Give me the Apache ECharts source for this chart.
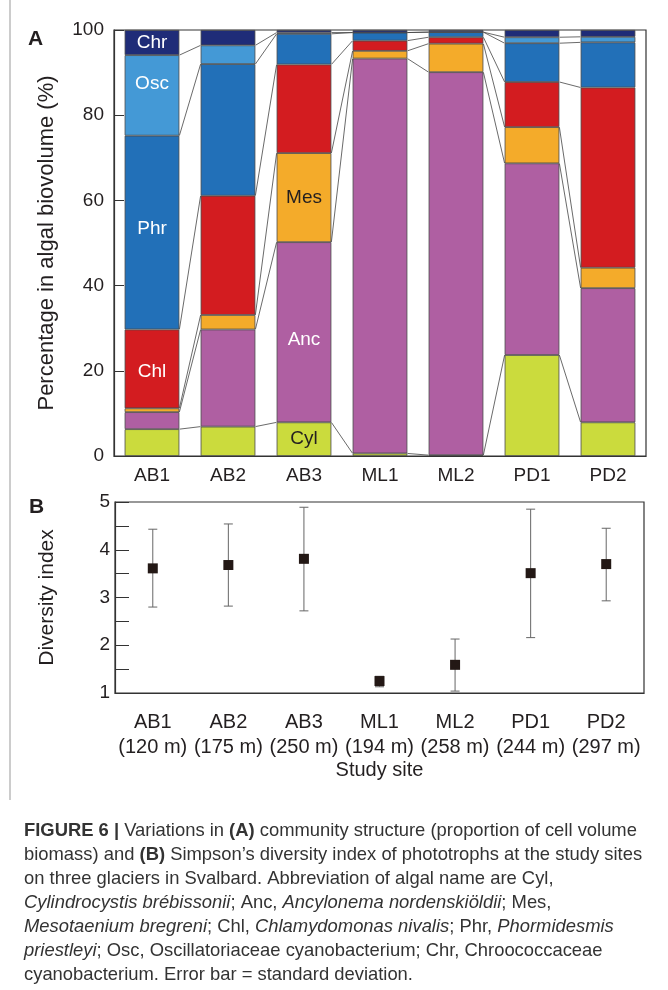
<!DOCTYPE html>
<html>
<head>
<meta charset="utf-8">
<script src="https://cdn.jsdelivr.net/npm/echarts@6/dist/echarts.min.js"></script>
<style>
  body { margin: 0; background: #fff; }
  #chart { width: 668px; height: 990px; }
</style>
</head>
<body>
<div id="chart"></div>
<script>
// sites and altitudes
const categories = ['AB1', 'AB2', 'AB3', 'ML1', 'ML2', 'PD1', 'PD2'];
const altitudes = ['120 m', '175 m', '250 m', '194 m', '258 m', '244 m', '297 m'];

// percentage of algal biovolume, bottom to top of the stack
const taxa = ['Cyl', 'Anc', 'Mes', 'Chl', 'Phr', 'Osc', 'Chr'];
const cyl = [6.3, 6.9, 7.9, 0.6, 0.2, 23.7, 7.9];
const anc = [4.0, 22.8, 42.3, 92.7, 89.9, 45.0, 31.5];
const mes = [0.9, 3.4, 20.9, 1.8, 6.7, 8.5, 4.8];
const chl = [18.5, 28.0, 20.8, 2.4, 1.5, 10.6, 42.3];
const phr = [45.5, 30.9, 7.2, 1.9, 1.2, 9.1, 10.6];
const osc = [18.9, 4.4, 0.3, 0.0, 0.0, 1.4, 1.3];
const chr = [5.9, 3.6, 0.6, 0.6, 0.5, 1.7, 1.6];

// Simpson's diversity index, mean and +/- SD ends
const diversity = [3.61, 3.68, 3.81, 1.25, 1.59, 3.51, 3.70];
const divLow = [2.80, 2.82, 2.72, 1.13, 1.04, 2.16, 2.93];
const divHigh = [4.43, 4.54, 4.89, 1.35, 2.13, 4.85, 4.45];

const pctTicks = [0, 20, 40, 60, 80, 100];
const divTicks = [1, 2, 3, 4, 5];

const values = [cyl, anc, mes, chl, phr, osc, chr];
const colors = ['#cbdb3d', '#af5fa2', '#f4ab2a', '#d31c20', '#2270b8', '#4499d6', '#1f2c78'];
// which bar carries the taxon name
const labelAt = { Cyl: 2, Anc: 2, Mes: 2, Chl: 0, Phr: 0, Osc: 0, Chr: 0 };
const labelDark = { Cyl: true, Mes: true };
const labelShift = { Osc: [0, -12], Phr: [0, -4], Anc: [0, 8], Chl: [0, 3] };

const font = '"Liberation Sans", Arial, sans-serif';
const BAR = 0.72;

let myChart = echarts.init(document.getElementById('chart'));

// boundaries between stacked segments -> connector lines
let links = [];
for (let k = 1; k < taxa.length; k++) {
  let cum = categories.map((c, i) => {
    let s = 0;
    for (let j = 0; j < k; j++) s += values[j][i];
    return s;
  });
  for (let i = 0; i < categories.length - 1; i++) {
    links.push([i, cum[i], cum[i + 1]]);
  }
}

let barSeries = taxa.map((name, t) => ({
  name: name,
  type: 'bar',
  stack: 'pct',
  xAxisIndex: 0,
  yAxisIndex: 0,
  barWidth: (BAR * 100) + '%',
  data: values[t],
  itemStyle: { color: colors[t], borderColor: '#4a4a4a', borderWidth: 0.8 },
  label: {
    show: true,
    position: 'inside',
    fontSize: 19,
    fontFamily: font,
    color: labelDark[name] ? '#231f20' : '#fff',
    offset: labelShift[name] || [0, 0],
    formatter: p => (labelAt[p.seriesName] === p.dataIndex ? p.seriesName : '')
  },
  emphasis: { disabled: true }
}));

let option = {
  animation: false,
  backgroundColor: '#fff',
  textStyle: { fontFamily: font },
  grid: [
    { left: 114, top: 30, width: 532, height: 426, show: true, borderColor: '#333', borderWidth: 1.2 },
    { left: 115, top: 502, width: 529, height: 191, show: true, borderColor: '#333', borderWidth: 1.2 }
  ],
  xAxis: [
    {
      type: 'category', gridIndex: 0, data: categories,
      axisLine: { lineStyle: { color: '#333', width: 1.2 } },
      axisTick: { inside: true, length: 9, lineStyle: { color: '#333' } },
      axisLabel: { fontSize: 19, color: '#231f20', margin: 10, interval: 0 }
    },
    {
      type: 'category', gridIndex: 1, data: categories,
      axisLine: { lineStyle: { color: '#333', width: 1.2 } },
      axisTick: { inside: true, length: 6, lineStyle: { color: '#333' } },
      axisLabel: {
        fontSize: 20, color: '#231f20', margin: 17, lineHeight: 25, interval: 0,
        formatter: (v, i) => v + '\n(' + altitudes[i] + ')'
      },
      name: 'Study site', nameLocation: 'middle', nameGap: 66,
      nameTextStyle: { fontSize: 20, color: '#231f20' }
    }
  ],
  yAxis: [
    {
      type: 'value', gridIndex: 0, min: pctTicks[0], max: pctTicks[pctTicks.length - 1], interval: 20,
      axisLine: { show: true, lineStyle: { color: '#333', width: 1.2 } },
      axisTick: { show: true, inside: true, length: 10, lineStyle: { color: '#333' } },
      splitLine: { show: false },
      axisLabel: { fontSize: 19, color: '#231f20', margin: 10 },
      name: 'Percentage in algal biovolume (%)', nameLocation: 'middle', nameGap: 56,
      nameTextStyle: { fontSize: 22, color: '#231f20' }
    },
    {
      type: 'value', gridIndex: 1, min: divTicks[0], max: divTicks[divTicks.length - 1], interval: 0.5,
      axisLine: { show: true, lineStyle: { color: '#333', width: 1.2 } },
      axisTick: { show: true, inside: true, length: 14, lineStyle: { color: '#333' } },
      splitLine: { show: false },
      axisLabel: {
        fontSize: 19, color: '#231f20', margin: 5,
        formatter: v => (divTicks.indexOf(v) >= 0 ? v : '')
      },
      name: 'Diversity index', nameLocation: 'middle', nameGap: 57,
      nameTextStyle: { fontSize: 21, color: '#231f20' }
    }
  ],
  series: barSeries.concat([
    {
      // thin lines joining the same boundary in neighbouring bars
      type: 'custom',
      xAxisIndex: 0, yAxisIndex: 0,
      data: links,
      z: 1,
      renderItem: function (params, api) {
        let i = api.value(0);
        let p1 = api.coord([i, api.value(1)]);
        let p2 = api.coord([i + 1, api.value(2)]);
        let half = api.size([1, 0])[0] * BAR / 2;
        return {
          type: 'line',
          shape: { x1: p1[0] + half, y1: p1[1], x2: p2[0] - half, y2: p2[1] },
          style: { stroke: '#444', lineWidth: 0.8 }
        };
      }
    },
    {
      // error bars
      type: 'custom',
      xAxisIndex: 1, yAxisIndex: 1,
      data: divLow.map((l, i) => [i, l, divHigh[i]]),
      z: 2,
      renderItem: function (params, api) {
        let lo = api.coord([api.value(0), api.value(1)]);
        let hi = api.coord([api.value(0), api.value(2)]);
        let st = { stroke: '#666', lineWidth: 1 };
        return {
          type: 'group',
          children: [
            { type: 'line', shape: { x1: lo[0], y1: lo[1], x2: hi[0], y2: hi[1] }, style: st },
            { type: 'line', shape: { x1: lo[0] - 4.5, y1: lo[1], x2: lo[0] + 4.5, y2: lo[1] }, style: st },
            { type: 'line', shape: { x1: hi[0] - 4.5, y1: hi[1], x2: hi[0] + 4.5, y2: hi[1] }, style: st }
          ]
        };
      }
    },
    {
      type: 'scatter',
      xAxisIndex: 1, yAxisIndex: 1,
      data: diversity,
      symbol: 'rect',
      symbolSize: 10,
      itemStyle: { color: '#231815', opacity: 1 },
      z: 3
    }
  ]),
  graphic: [
    { type: 'line', shape: { x1: 10, y1: 0, x2: 10, y2: 800 }, style: { stroke: '#999', lineWidth: 1 } },
    { type: 'text', left: 28, top: 29, style: { text: 'A', fill: '#231f20', font: 'bold 21px ' + font } },
    { type: 'text', left: 29, top: 497, style: { text: 'B', fill: '#231f20', font: 'bold 21px ' + font } }
  ]
};

// caption under the figure
const captionLines = [
  '{b|FIGURE 6 |} Variations in {b|(A)} community structure (proportion of cell volume',
  'biomass) and {b|(B)} Simpson\u2019s diversity index of phototrophs at the study sites',
  'on three glaciers in Svalbard. Abbreviation of algal name are Cyl,',
  '{i|Cylindrocystis br\u00e9bissonii}; Anc, {i|Ancylonema nordenski\u00f6ldii}; Mes,',
  '{i|Mesotaenium bregreni}; Chl, {i|Chlamydomonas nivalis}; Phr, {i|Phormidesmis}',
  '{i|priestleyi}; Osc, Oscillatoriaceae cyanobacterium; Chr, Chroococcaceae',
  'cyanobacterium. Error bar = standard deviation.'
];
captionLines.forEach((line, n) => {
  option.graphic.push({
    type: 'text',
    left: 24,
    top: 822 + n * 24,
    style: {
      text: line,
      fontSize: 18.4,
      fontFamily: font,
      fill: '#333',
      rich: {
        b: { fontSize: 18.4, fontWeight: 'bold', fontFamily: font, fill: '#333' },
        i: { fontSize: 18.4, fontStyle: 'italic', fontFamily: font, fill: '#333' }
      }
    }
  });
});

myChart.setOption(option);
</script>
</body>
</html>
